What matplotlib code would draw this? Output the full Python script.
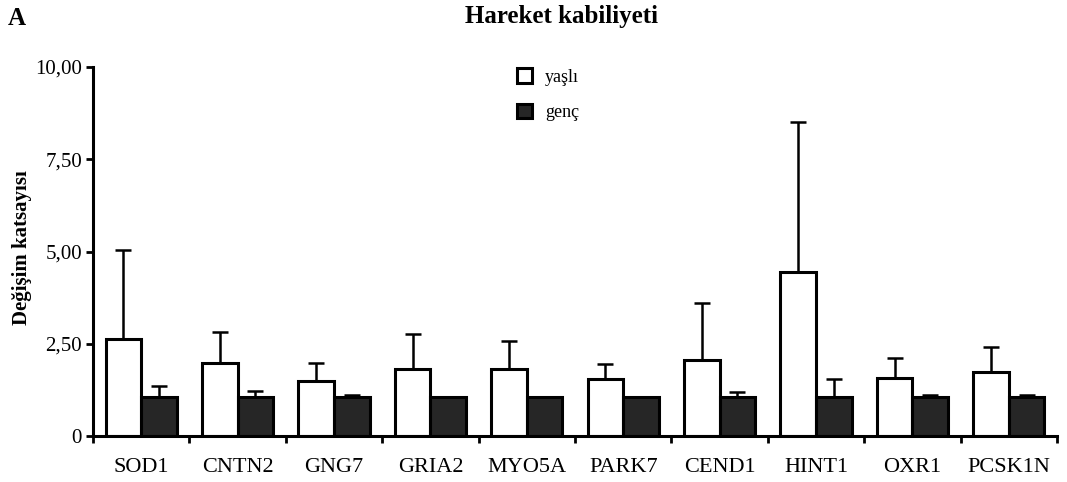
import matplotlib
matplotlib.use("Agg")
import matplotlib.pyplot as plt
import numpy as np

genes = ["SOD1", "CNTN2", "GNG7", "GRIA2", "MYO5A", "PARK7", "CEND1", "HINT1", "OXR1", "PCSK1N"]
yasli = [2.63, 1.98, 1.49, 1.82, 1.82, 1.54, 2.06, 4.44, 1.57, 1.73]
yasli_err = [2.41, 0.84, 0.49, 0.94, 0.75, 0.41, 1.54, 4.06, 0.54, 0.68]
genc = [1.05, 1.05, 1.05, 1.05, 1.05, 1.05, 1.05, 1.05, 1.05, 1.05]
genc_err = [0.30, 0.17, 0.06, 0.02, 0.01, 0.02, 0.13, 0.49, 0.07, 0.07]
y_ticks = [0, 2.5, 5, 7.5, 10]
y_tick_labels = ["0", "2,50", "5,00", "7,50", "10,00"]

plt.rcParams["font.family"] = ["Liberation Serif", "DejaVu Serif"]

fig = plt.figure(figsize=(10.67, 4.82), dpi=100)
ax = fig.add_axes([0.0872, 0.0954, 0.9034, 0.7656])

x = np.arange(len(genes))
w = 0.37
lw = 2.2
ekw = dict(elinewidth=1.8, capthick=1.8, capsize=5.5, ecolor="black")

ax.bar(x - w / 2, yasli, w, color="white", edgecolor="black", linewidth=lw,
       yerr=[np.zeros(len(x)), yasli_err], error_kw=ekw, label="yaşlı", zorder=2)
ax.bar(x + w / 2, genc, w, color="#262626", edgecolor="black", linewidth=lw,
       yerr=[np.zeros(len(x)), genc_err], error_kw=ekw, label="genç", zorder=2)

ax.set_xlim(-0.5, len(genes) - 0.5)
ax.set_ylim(0, 10)
ax.set_yticks(y_ticks)
ax.set_yticklabels(y_tick_labels)
ax.set_xticks(x)
ax.set_xticklabels(genes)
ax.set_xticks(np.arange(-0.5, len(genes)), minor=True)
ax.tick_params(axis="x", which="major", length=0, labelsize=16, pad=16)
ax.tick_params(axis="x", which="minor", length=5, width=2)
ax.tick_params(axis="y", length=5, width=2, labelsize=15, pad=3)

for s in ["top", "right"]:
    ax.spines[s].set_visible(False)
for s in ["left", "bottom"]:
    ax.spines[s].set_linewidth(2.2)

ax.set_ylabel("Değişim katsayısı", fontsize=15, fontweight="bold")
ax.yaxis.set_label_coords(-0.0635, 0.512)

leg = ax.legend(loc="upper left", bbox_to_anchor=(0.423, 1.04), frameon=False,
                fontsize=13, handlelength=0.85, handleheight=0.85,
                labelspacing=1.0, handletextpad=0.7)

fig.text(0.526, 0.965, "Hareket kabiliyeti", ha="center", va="center",
         fontsize=18, fontweight="bold")
fig.text(0.007, 0.962, "A", ha="left", va="center", fontsize=18, fontweight="bold")

fig.savefig("out.png", dpi=100)
